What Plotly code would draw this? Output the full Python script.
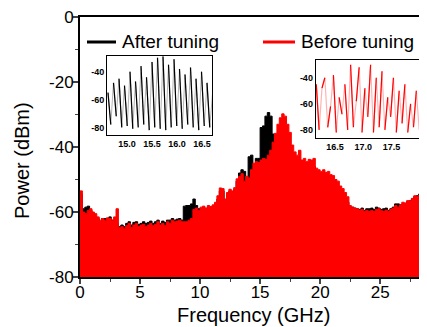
import plotly.graph_objects as go

# ---------------- data ----------------
freq_step = 0.2  # GHz sampling of the spectra
before_tuning = [
    -53.5, -60, -60.5, -59.5, -59, -60, -60.5, -61.5, -62.5, -62,
    -62.5, -61.8, -62, -62.5, -61.5, -59, -64.8, -64.5, -65, -64.2,
    -63.5, -64.8, -64, -63.5, -64.5, -64, -63.8, -64.5, -64, -63.5,
    -64.2, -63.8, -63, -64, -63.5, -64.2, -63, -63.5, -62.5, -63,
    -62.8, -62.5, -63, -63, -63, -62.5, -62, -59.2, -58.8, -59.5,
    -58.5, -58.2, -58.8, -58, -58.3, -57.8, -57, -55, -52.6, -52.8,
    -56, -54, -53, -53.5, -52.5, -49.8, -49, -48.2, -50.5, -49,
    -49.5, -47, -45, -44.5, -44.8, -44, -43.5, -43.8, -42.5, -41,
    -38.5, -35.8, -33, -31, -29.8, -30.5, -33, -35.5, -39.4, -41.5,
    -42.5, -41, -44, -43.5, -44.5, -43.8, -44, -43.5, -46.5, -47,
    -47.5, -47, -47.8, -47.5, -48.5, -48.8, -50, -50.5, -52, -52.8,
    -54, -55.3, -58, -58.5, -58.8, -59, -59.4, -59.2, -59.8, -59.5,
    -59.8, -59.5, -59.8, -59.2, -59, -59.5, -59.8, -59.4, -59.8, -59.2,
    -58.8, -58, -58.5, -57.8, -57, -57.2, -56.5, -56.5, -55.8, -55,
    -55.2, -54.8, -55.5, -55.8, -56, -56,
]
after_tuning = [
    -54.5, -59, -58.5, -58.2, -59.5, -60.5, -61.5, -62, -63, -62,
    -62, -62.5, -61.5, -62.5, -62.5, -63.5, -64.5, -64, -64.5, -63.5,
    -63, -64, -63.2, -63, -63.8, -63.5, -63, -63.5, -63.2, -62.8,
    -63.5, -63, -62.5, -63.5, -62.8, -63.2, -62.5, -62.5, -62, -62.5,
    -62.2, -62, -62.5, -58.2, -58, -58, -57.5, -56, -58, -59,
    -59, -58.5, -59, -58.5, -58.8, -58.2, -57.5, -56, -53.5, -53.5,
    -56.5, -54.5, -53.5, -54, -53, -50.5, -48, -47, -47.5, -50,
    -43, -42.5, -52.5, -43.5, -43.5, -34, -33.5, -30.5, -29.4, -30.5,
    -36, -40, -42, -40, -39, -38, -40, -42, -43, -44,
    -45, -44, -46, -46, -47, -46, -46, -46, -48, -49,
    -49.5, -49, -50, -49.5, -50.5, -50.8, -52, -52.5, -54, -54.8,
    -56, -57, -58.5, -58.5, -58.8, -59, -59.2, -58.8, -59.5, -59,
    -59, -58.8, -59.2, -58.5, -58.8, -59.2, -59, -58.8, -59.5, -59,
    -58.5, -57.5, -57.5, -57.8, -57.5, -57.5, -56.8, -56.5, -56, -55.2,
    -55, -54.5, -54.8, -53.5, -55, -56,
]
freq = [i * freq_step for i in range(len(before_tuning))]

# insets (zoomed traces)
inset_after_x0, inset_after_dx = 14.62, 0.055
inset_after_y = [
    -55, -78, -48, -72, -45, -80, -50, -79, -40, -81, -47, -80, -36,
    -78, -44, -82, -33, -80, -30, -81, -29, -82, -35, -80, -31, -79,
    -38, -81, -42, -78, -37, -80, -45, -82, -40, -79, -48, -80, -56,
]
inset_before_x0, inset_before_dx = 16.17, 0.0505
inset_before_y = [
    -45, -80, -48, -40, -78, -62, -38, -82, -55, -68, -45, -80, -30,
    -78, -58, -32, -82, -48, -70, -30, -82, -40, -78, -35, -80, -55,
    -70, -40, -82, -50, -75, -45, -82, -60, -78, -50, -80,
]
inset_after_x = [inset_after_x0 + i * inset_after_dx for i in range(len(inset_after_y))]
inset_before_x = [inset_before_x0 + i * inset_before_dx for i in range(len(inset_before_y))]

main_xticks = [0, 5, 10, 15, 20, 25]
main_yticks = [0, -20, -40, -60, -80]
main_yticklabels = ["0", "-20", "-40", "-60", "-80"]
inset_yticks = [-40, -60, -80]
inset_yticklabels = ["-40", "-60", "-80"]
inset1_xticks = [15.0, 15.5, 16.0, 16.5]
inset1_xticklabels = ["15.0", "15.5", "16.0", "16.5"]
inset2_xticks = [16.5, 17.0, 17.5]
inset2_xticklabels = ["16.5", "17.0", "17.5"]
legend_labels = ["After tuning", "Before tuning"]
colors = {"after": "#000000", "before": "#ff0000",
          "after_light": "#b4b4b4", "before_light": "#ffb4b4"}


def alt_segments(xs, ys):
    """every other segment of a polyline, separated by None"""
    sx, sy = [], []
    for i in range(0, len(xs) - 1, 2):
        sx += [xs[i], xs[i + 1], None]
        sy += [ys[i], ys[i + 1], None]
    return sx, sy


FONT = "Arial, 'Liberation Sans', sans-serif"
fig = go.Figure()

floor = [-80] * len(freq)
# after tuning (black) behind
fig.add_trace(go.Scatter(x=freq, y=floor, mode="lines", line=dict(width=0),
                         showlegend=False, hoverinfo="skip"))
fig.add_trace(go.Scatter(x=freq, y=after_tuning, mode="lines", line_shape="hv",
                         line=dict(color=colors["after"], width=1),
                         fill="tonexty", fillcolor=colors["after"], showlegend=False))
# before tuning (red) in front
fig.add_trace(go.Scatter(x=freq, y=floor, mode="lines", line=dict(width=0),
                         showlegend=False, hoverinfo="skip"))
fig.add_trace(go.Scatter(x=freq, y=before_tuning, mode="lines", line_shape="hv",
                         line=dict(color=colors["before"], width=1),
                         fill="tonexty", fillcolor=colors["before"], showlegend=False))

# inset 1 (after tuning)
fig.add_trace(go.Scatter(x=inset_after_x, y=inset_after_y, mode="lines",
                         line=dict(color=colors["after_light"], width=1),
                         xaxis="x2", yaxis="y2", showlegend=False))
sx, sy = alt_segments(inset_after_x, inset_after_y)
fig.add_trace(go.Scatter(x=sx, y=sy, mode="lines",
                         line=dict(color=colors["after"], width=1.2),
                         xaxis="x2", yaxis="y2", showlegend=False))
# inset 2 (before tuning)
fig.add_trace(go.Scatter(x=inset_before_x, y=inset_before_y, mode="lines",
                         line=dict(color=colors["before_light"], width=1.2),
                         xaxis="x3", yaxis="y3", showlegend=False))
sx, sy = alt_segments(inset_before_x, inset_before_y)
fig.add_trace(go.Scatter(x=sx, y=sy, mode="lines",
                         line=dict(color=colors["before"], width=1.2),
                         xaxis="x3", yaxis="y3", showlegend=False))

# page body adds an 8px offset; figure sized so plot area lands where the reference has it
OFF = 8
W, H = 427 - OFF, 327 - OFF
PL, PR, PT, PB = 80, 427, 17, 277          # plot area in screen pixels
L, T = PL - OFF, PT - OFF
R = (W + OFF) - PR
B = (H + OFF) - PB
pw, ph = PR - PL, PB - PT


def px(xp):
    return (xp - PL) / pw


def py(yp):
    return (PB - yp) / ph


inset_axis = dict(showline=True, linecolor="black", linewidth=1, mirror=True,
                  showgrid=False, zeroline=False, ticks="", automargin=False,
                  tickfont=dict(family=FONT, size=9, color="black", weight="bold"))

fig.update_layout(
    template="none",
    width=W, height=H,
    margin=dict(l=L, r=R, t=T, b=B, autoexpand=False),
    paper_bgcolor="white", plot_bgcolor="white",
    font=dict(family=FONT, color="black"),
    xaxis=dict(range=[0, 28.9], tickvals=main_xticks, ticks="outside", ticklen=5,
               tickwidth=1.5, showline=True, linecolor="black", linewidth=2,
               mirror=True, showgrid=False, zeroline=False, automargin=False,
               ticklabelstandoff=-6, ticklabeloverflow="allow", layer="below traces",
               minor=dict(dtick=2.5, ticks="outside", ticklen=3, tickwidth=1.2),
               tickfont=dict(size=17, family=FONT)),
    yaxis=dict(range=[-80, 0], tickvals=main_yticks, ticktext=main_yticklabels,
               ticks="outside", ticklen=5, tickwidth=1.5, showline=True,
               linecolor="black", linewidth=2, showgrid=False, zeroline=False,
               automargin=False, ticklabelstandoff=-4, ticklabeloverflow="allow",
               minor=dict(dtick=10, ticks="outside", ticklen=3, tickwidth=1.2),
               tickfont=dict(size=17, family=FONT)),
    yaxis4=dict(range=[-80, 0], overlaying="y", side="right", tickvals=main_yticks,
                ticks="inside", ticklen=5, tickwidth=1.5, showticklabels=False,
                showgrid=False, zeroline=False, showline=False, automargin=False,
                layer="below traces"),
    xaxis2=dict(domain=[px(107), px(212)], range=[14.6, 16.7], anchor="y2",
                tickvals=inset1_xticks, ticktext=inset1_xticklabels, **inset_axis),
    yaxis2=dict(domain=[py(135), py(56)], range=[-85.5, -28.7], anchor="x2",
                tickvals=inset_yticks, ticktext=inset_yticklabels, **inset_axis),
    xaxis3=dict(domain=[px(315.7), px(419.3)], range=[16.16, 17.99], anchor="y3",
                tickvals=inset2_xticks, ticktext=inset2_xticklabels, **inset_axis),
    yaxis3=dict(domain=[py(138), py(60)], range=[-86.2, -26.4], anchor="x3",
                tickvals=inset_yticks, ticktext=inset_yticklabels, **inset_axis),
)
# dummy trace for right-side mirrored ticks
fig.add_trace(go.Scatter(x=[None], y=[None], yaxis="y4", showlegend=False))

# legend drawn manually
fig.add_shape(type="line", xref="paper", yref="paper", x0=px(87), x1=px(116),
              y0=py(42), y1=py(42), line=dict(color=colors["after"], width=3))
fig.add_shape(type="line", xref="paper", yref="paper", x0=px(263), x1=px(295),
              y0=py(42), y1=py(42), line=dict(color=colors["before"], width=3))
fig.add_annotation(x=px(120), y=py(41), xref="paper", yref="paper", text=legend_labels[0],
                   showarrow=False, xanchor="left", yanchor="middle",
                   font=dict(size=19, family=FONT, color="black"))
fig.add_annotation(x=px(299), y=py(41), xref="paper", yref="paper", text=legend_labels[1],
                   showarrow=False, xanchor="left", yanchor="middle",
                   font=dict(size=19, family=FONT, color="black"))
# axis titles
fig.add_annotation(x=px(253), y=py(315), xref="paper", yref="paper",
                   text="Frequency (GHz)", showarrow=False, xanchor="center",
                   yanchor="middle", font=dict(size=20, family=FONT))
fig.add_annotation(x=px(22), y=py(161), xref="paper", yref="paper",
                   text="Power (dBm)", showarrow=False, textangle=-90,
                   xanchor="center", yanchor="middle", font=dict(size=20, family=FONT))

fig.write_html("out.html")
